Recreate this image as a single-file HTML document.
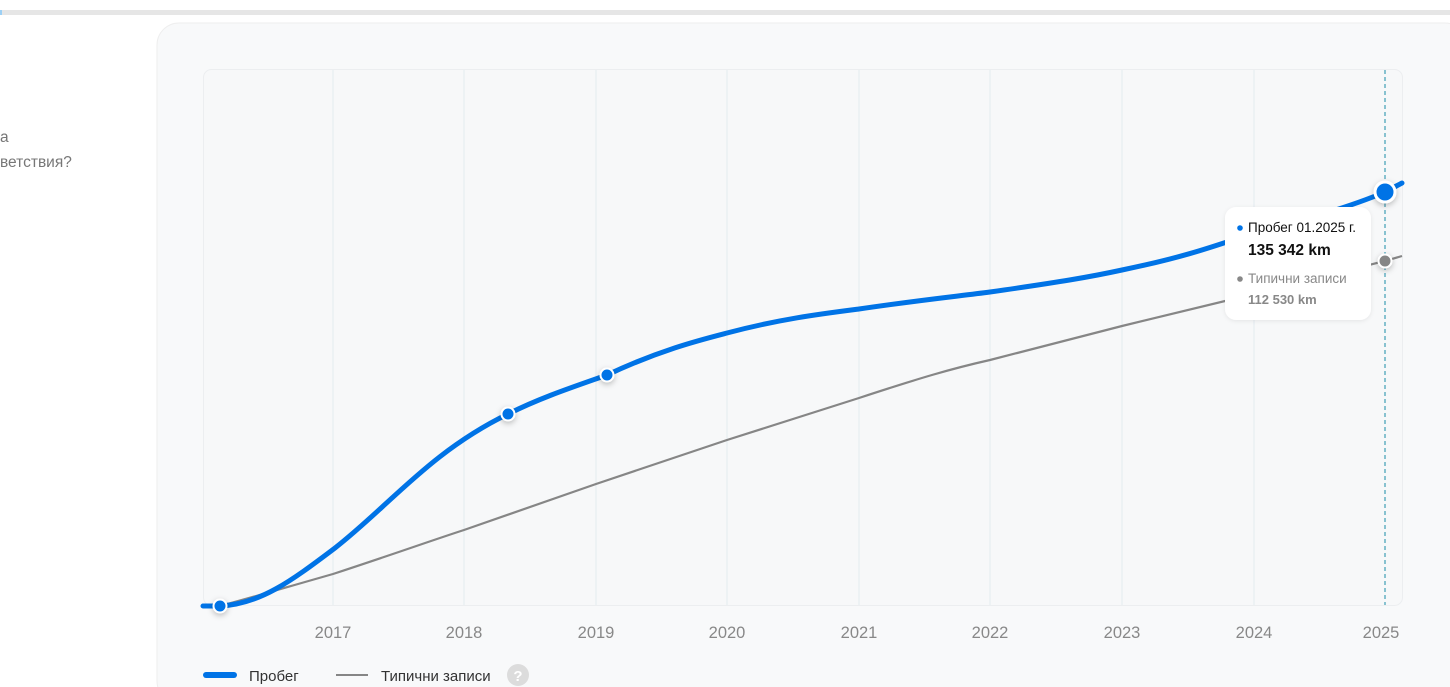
<!DOCTYPE html>
<html><head><meta charset="utf-8"><style>
html,body{margin:0;padding:0;background:#fff;width:1450px;height:687px;overflow:hidden;font-family:"Liberation Sans","DejaVu Sans",sans-serif}
</style></head><body>
<svg width="1450" height="687" xmlns="http://www.w3.org/2000/svg" style="display:block">
<defs>
<filter id="sh" x="-50%" y="-50%" width="200%" height="200%"><feDropShadow dx="0" dy="2" stdDeviation="3" flood-color="#000" flood-opacity="0.25"/></filter>
<filter id="sh2" x="-20%" y="-20%" width="140%" height="140%"><feDropShadow dx="0" dy="1" stdDeviation="2" flood-color="#000" flood-opacity="0.08"/></filter>
</defs>
<rect x="0" y="10" width="1450" height="5" fill="#e6e6e6"/>
<rect x="0" y="10" width="2" height="5" fill="#9cd0f5"/>
<text x="0" y="142" font-size="15.5" fill="#777">а</text>
<text x="0" y="167" font-size="15.5" fill="#777">ветствия?</text>
<rect x="157" y="23" width="1310" height="680" rx="22" fill="#f8f9fa" stroke="#eeeeee"/>
<rect x="203.5" y="69.5" width="1199" height="536" rx="8" fill="#f7f8f9" stroke="#eceef0"/>
<g stroke="#e3ebf0" stroke-width="1">
<line x1="333" y1="70" x2="333" y2="605"/><line x1="464" y1="70" x2="464" y2="605"/>
<line x1="596" y1="70" x2="596" y2="605"/><line x1="727" y1="70" x2="727" y2="605"/>
<line x1="859" y1="70" x2="859" y2="605"/><line x1="990" y1="70" x2="990" y2="605"/>
<line x1="1122" y1="70" x2="1122" y2="605"/><line x1="1254" y1="70" x2="1254" y2="605"/>
</g>
<line x1="1385" y1="70" x2="1385" y2="605" stroke="#1a8ca8" stroke-dasharray="4,3"/>
<g font-size="16.5" fill="#888" text-anchor="middle">
<text x="333" y="638">2017</text><text x="464" y="638">2018</text><text x="596" y="638">2019</text>
<text x="727" y="638">2020</text><text x="859" y="638">2021</text><text x="990" y="638">2022</text>
<text x="1122" y="638">2023</text><text x="1254" y="638">2024</text><text x="1381" y="638">2025</text>
</g>
<path d="M220,606 C250,598 270,592 333,574 C400,552 430,541 464,530 L596,484 L727,440 L859,398 C920,378 950,369 990,360 L1122,326 L1254,294 L1385,261 L1402,256" fill="none" stroke="#868686" stroke-width="2.2"/>
<path d="M203,606 L220,606 C260,604 290,582 335,548 C390,505 430,452 508,414 C540,398 570,388 607,375 C660,350 700,340 727,333 C780,319 820,314 859,309 C920,300 960,296 990,292 C1060,282 1090,277 1122,270 C1190,256 1220,244 1254,233 C1310,218 1350,207 1385,192 L1402,183" fill="none" stroke="#0073e6" stroke-width="5" stroke-linecap="round"/>
<g filter="url(#sh)">
<circle cx="220" cy="606" r="6.5" fill="#0073e6" stroke="#fff" stroke-width="2"/>
<circle cx="508" cy="414" r="6.5" fill="#0073e6" stroke="#fff" stroke-width="2"/>
<circle cx="607" cy="375" r="6.5" fill="#0073e6" stroke="#fff" stroke-width="2"/>
<circle cx="1385" cy="192" r="10" fill="#0073e6" stroke="#fff" stroke-width="3"/>
<circle cx="1385" cy="261" r="6.5" fill="#868686" stroke="#fff" stroke-width="2"/>
</g>
<rect x="1225" y="207" width="146" height="113" rx="11" fill="#fff" filter="url(#sh2)"/>
<circle cx="1240" cy="228" r="2.8" fill="#0073e6"/>
<text x="1248" y="232" font-size="13.5" fill="#111">Пробег 01.2025 г.</text>
<text x="1248" y="255" font-size="15.5" font-weight="bold" fill="#111">135 342 km</text>
<circle cx="1240" cy="279" r="2.8" fill="#888"/>
<text x="1248" y="283" font-size="13.5" fill="#888">Типични записи</text>
<text x="1248" y="304" font-size="13" font-weight="bold" fill="#888">112 530 km</text>
<line x1="206" y1="675" x2="234" y2="675" stroke="#0073e6" stroke-width="6" stroke-linecap="round"/>
<text x="249" y="681" font-size="15" fill="#333">Пробег</text>
<line x1="336" y1="675" x2="368" y2="675" stroke="#868686" stroke-width="2"/>
<text x="381" y="681" font-size="15" fill="#333">Типични записи</text>
<circle cx="518" cy="675" r="11" fill="#dcdcdc"/>
<text x="518" y="681" font-size="15" font-weight="bold" fill="#fff" text-anchor="middle">?</text>
</svg>
</body></html>
